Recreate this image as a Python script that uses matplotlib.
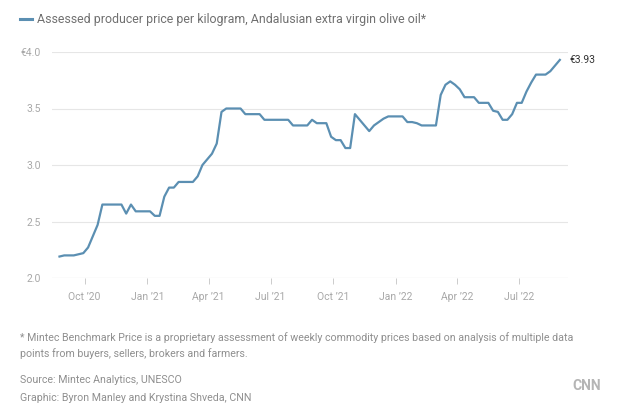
import matplotlib
matplotlib.use("Agg")
import matplotlib.pyplot as plt
import pandas as pd

plt.rcParams['font.family'] = ['Roboto', 'DejaVu Sans']

# weekly assessed price, EUR per kg
start_date = "2020-08-25"
prices = [
    2.19, 2.20, 2.20, 2.20, 2.21, 2.22, 2.27, 2.37, 2.47, 2.65,
    2.65, 2.65, 2.65, 2.65, 2.57, 2.65, 2.59, 2.59, 2.59, 2.59,
    2.55, 2.55, 2.72, 2.80, 2.80, 2.85, 2.85, 2.85, 2.85, 2.90,
    3.00, 3.05, 3.10, 3.19, 3.47, 3.50, 3.50, 3.50, 3.50, 3.45,
    3.45, 3.45, 3.45, 3.40, 3.40, 3.40, 3.40, 3.40, 3.40, 3.35,
    3.35, 3.35, 3.35, 3.40, 3.37, 3.37, 3.37, 3.25, 3.22, 3.22,
    3.15, 3.15, 3.45, 3.40, 3.35, 3.30, 3.35, 3.38, 3.41, 3.43,
    3.43, 3.43, 3.43, 3.38, 3.38, 3.37, 3.35, 3.35, 3.35, 3.35,
    3.62, 3.71, 3.74, 3.71, 3.67, 3.60, 3.60, 3.60, 3.55, 3.55,
    3.55, 3.48, 3.47, 3.40, 3.40, 3.45, 3.55, 3.55, 3.65, 3.73,
    3.80, 3.80, 3.80, 3.83, 3.88, 3.93,
]
dates = pd.date_range(start_date, periods=len(prices), freq="7D")

tick_dates = ["2020-10-01", "2021-01-01", "2021-04-01", "2021-07-01",
              "2021-10-01", "2022-01-01", "2022-04-01", "2022-07-01"]
tick_labels = ["Oct \u201920", "Jan \u201921", "Apr \u201921", "Jul \u201921",
               "Oct \u201921", "Jan \u201922", "Apr \u201922", "Jul \u201922"]
y_ticks = [2.0, 2.5, 3.0, 3.5, 4.0]
y_labels = ["2.0", "2.5", "3.0", "3.5", "\u20ac4.0"]

line_color = "#5b8fb2"
grey = "#a8a8a8"
note_grey = "#8f8f8f"

fig = plt.figure(figsize=(6.3, 4.16), dpi=100)
ax = fig.add_axes([52 / 630, 138 / 416, 516 / 630, 226 / 416])

ax.plot(dates, prices, color=line_color, lw=1.6, solid_joinstyle="round")
ax.set_ylim(2.0, 4.0)
ax.set_xlim(pd.Timestamp("2020-08-14"), pd.Timestamp("2022-09-11"))

ax.set_yticks(y_ticks)
ax.set_yticklabels(y_labels)
ax.set_xticks(pd.to_datetime(tick_dates))
ax.set_xticklabels(tick_labels)

for spine in ax.spines.values():
    spine.set_visible(False)
ax.grid(axis="y", color="#e6e6e6", lw=0.8)
ax.axhline(2.0, color="#d9d9d9", lw=0.8)
ax.tick_params(axis="y", length=0, pad=8, labelsize=7.5, labelcolor=grey)
ax.tick_params(axis="x", length=4, width=0.7, color="#cccccc", pad=6,
               labelsize=7.5, labelcolor=grey)

ax.annotate("\u20ac3.93", xy=(dates[-1], prices[-1]), xytext=(7, 0),
            textcoords="offset points", va="center", ha="left",
            fontsize=7.5, color="#333333")

# legend
fig.add_artist(plt.Line2D([20 / 630, 32 / 630], [1 - 19 / 416, 1 - 19 / 416],
                          color=line_color, lw=2.2))
fig.text(37 / 630, 1 - 19 / 416,
         "Assessed producer price per kilogram, Andalusian extra virgin olive oil*",
         fontsize=8.9, color="#707070", va="center")

notes = [
    ("* Mintec Benchmark Price is a proprietary assessment of weekly commodity "
     "prices based on analysis of multiple data", 338),
    ("points from buyers, sellers, brokers and farmers.", 354),
    ("Source: Mintec Analytics, UNESCO", 380),
    ("Graphic: Byron Manley and Krystina Shveda, CNN", 398),
]
for text, ypix in notes:
    fig.text(20 / 630, 1 - ypix / 416, text, fontsize=7.7, color=note_grey,
             va="center")

fig.text(601 / 630, 1 - 386 / 416, "CNN", fontsize=10, fontweight="bold",
         color="#b5b5b5", ha="right", va="center")

fig.savefig("out.png", dpi=100, facecolor="white")
